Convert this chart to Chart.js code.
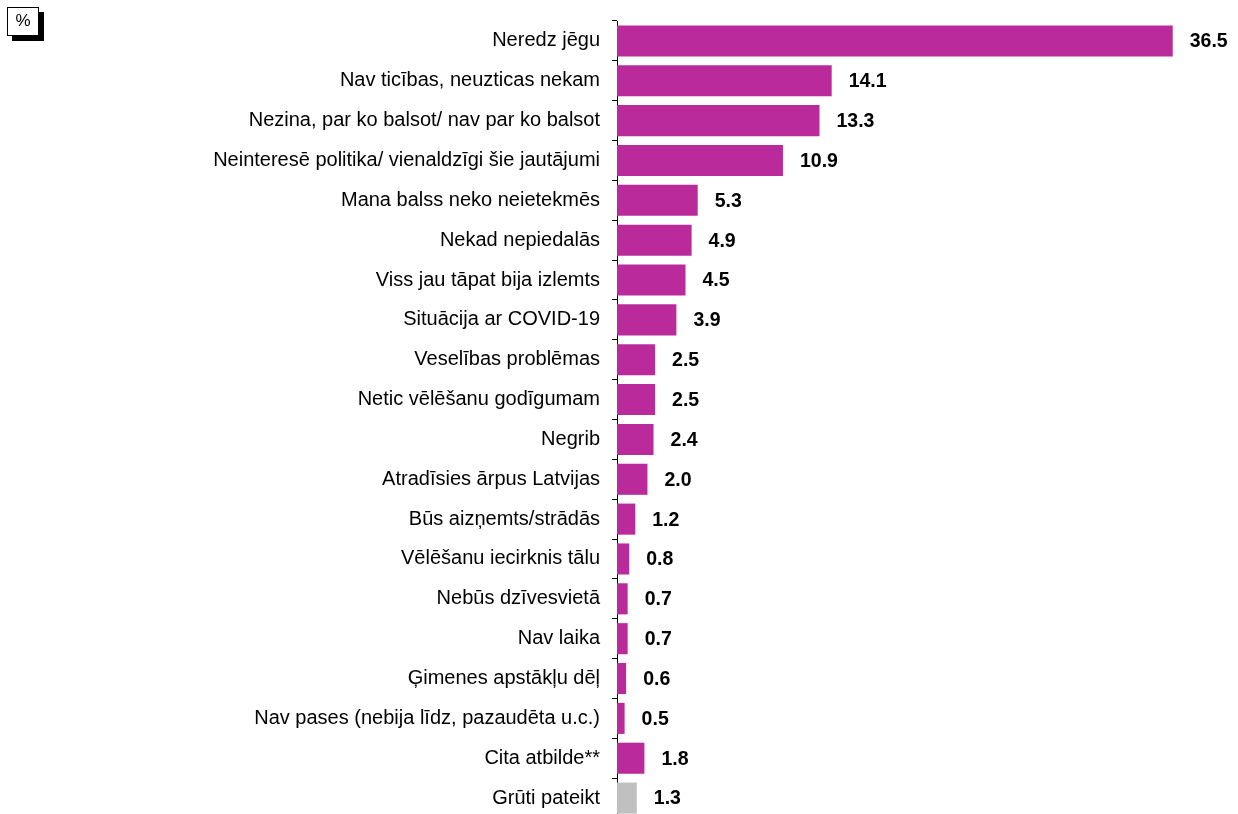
<!DOCTYPE html>
<html>
<head>
<meta charset="utf-8">
<script src="https://cdn.jsdelivr.net/npm/chart.js@4"></script>
<style>
    html, body { margin: 0; padding: 0; background: #ffffff; overflow: hidden; }
    #wrap { position: relative; width: 1238px; height: 814px; overflow: hidden; }
    #unit {
        position: absolute; left: 7px; top: 7px; width: 30px; height: 27px;
        border: 1px solid #000; background: #fff; box-shadow: 5px 5px 0 #000;
        font: 17px 'Liberation Sans', Arial, sans-serif; text-align: center; line-height: 26px;
    }
</style>
</head>
<body>
<div id="wrap">
    <!-- the plot runs a few px past the bottom edge, as in the source -->
    <canvas id="chart" width="1238" height="818"></canvas>
    <div id="unit">%</div>
</div>
<script>
// Reasons for not voting, %
const categories = [
    'Neredz jēgu',
    'Nav ticības, neuzticas nekam',
    'Nezina, par ko balsot/ nav par ko balsot',
    'Neinteresē politika/ vienaldzīgi šie jautājumi',
    'Mana balss neko neietekmēs',
    'Nekad nepiedalās',
    'Viss jau tāpat bija izlemts',
    'Situācija ar COVID-19',
    'Veselības problēmas',
    'Netic vēlēšanu godīgumam',
    'Negrib',
    'Atradīsies ārpus Latvijas',
    'Būs aizņemts/strādās',
    'Vēlēšanu iecirknis tālu',
    'Nebūs dzīvesvietā',
    'Nav laika',
    'Ģimenes apstākļu dēļ',
    'Nav pases (nebija līdz, pazaudēta u.c.)',
    'Cita atbilde**',
    'Grūti pateikt'
];
const values = [36.5, 14.1, 13.3, 10.9, 5.3, 4.9, 4.5, 3.9, 2.5, 2.5, 2.4, 2.0, 1.2, 0.8, 0.7, 0.7, 0.6, 0.5, 1.8, 1.3];
const greyCategories = ['Grūti pateikt'];

const barColor = '#BA2A9B';
const greyColor = '#C0C0C0';
const font = "'Liberation Sans', Arial, sans-serif";

// Value labels at the end of each bar
const valueLabels = {
    id: 'valueLabels',
    afterDatasetsDraw(chart) {
        const ctx = chart.ctx;
        const meta = chart.getDatasetMeta(0);
        ctx.save();
        ctx.font = 'bold 19.5px ' + font;
        ctx.fillStyle = '#000';
        ctx.textAlign = 'left';
        ctx.textBaseline = 'middle';
        meta.data.forEach((bar, i) => {
            ctx.fillText(values[i].toFixed(1), bar.x + 17, bar.y + 1);
        });
        ctx.restore();
    }
};

new Chart(document.getElementById('chart'), {
    type: 'bar',
    data: {
        labels: categories,
        datasets: [{
            data: values,
            backgroundColor: categories.map(c => greyCategories.includes(c) ? greyColor : barColor),
            borderWidth: 0,
            categoryPercentage: 1,
            barPercentage: 0.78
        }]
    },
    options: {
        indexAxis: 'y',
        responsive: false,
        animation: false,
        layout: { padding: { top: 21, right: 12, bottom: 0, left: 0 } },
        plugins: {
            legend: { display: false },
            tooltip: { enabled: false }
        },
        scales: {
            x: {
                display: false,
                min: 0,
                max: 40
            },
            y: {
                afterFit(scale) {
                    scale.width = 617;
                    scale.paddingTop = 0;
                    scale.paddingBottom = 0;
                },
                border: { display: true, color: '#000', width: 1 },
                grid: {
                    drawOnChartArea: false,
                    offset: true,
                    tickLength: 5,
                    color: '#000'
                },
                ticks: {
                    color: '#000',
                    padding: 12,
                    font: { family: font, size: 20 }
                }
            }
        }
    },
    plugins: [valueLabels]
});
</script>
</body>
</html>
